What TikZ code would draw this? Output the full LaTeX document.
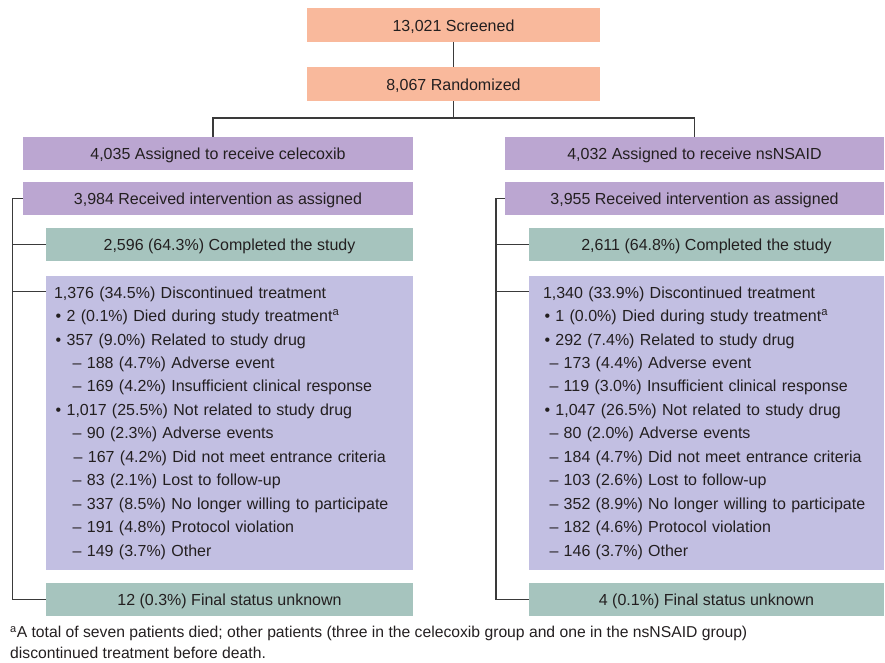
\documentclass[tikz,border=0pt]{standalone}
\usepackage{fontspec}
\setmainfont{Liberation Sans}
\usetikzlibrary{calc}
\definecolor{salmon}{HTML}{F9B99C}
\definecolor{purp}{HTML}{BBA6D1}
\definecolor{teal2}{HTML}{A6C4BE}
\definecolor{lav}{HTML}{C2BFE2}
\definecolor{txt}{HTML}{231F20}
\definecolor{ln}{HTML}{3A3A3A}
\tikzset{
  box/.style={rectangle, inner sep=0pt, text=txt, font=\fontsize{16}{19}\selectfont, anchor=center},
  linebox/.style={box, text height=14pt, text depth=1.6pt},
  topbox/.style={linebox, fill=salmon, minimum width=293pt, minimum height=34pt},
  armbox/.style={linebox, fill=purp, minimum width=#1, minimum height=33pt},
  compbox/.style={linebox, fill=teal2, minimum width=#1, minimum height=33pt},
  discbox/.style={box, fill=lav, minimum height=294pt, align=left},
  conn/.style={draw=ln, line width=1.1pt},
}
\begin{document}
\begin{tikzpicture}[x=1pt,y=-1pt]
\useasboundingbox (0,0) rectangle (885,663);
% top
\node[topbox] (screen) at (453.5,25) {13,021 Screened};
\node[topbox] (rand) at (453.5,84) {8,067 Randomized};
% left arm
\node[armbox=390pt] (lassign) at (218,153.5) {4,035 Assigned to receive celecoxib};
\node[armbox=390pt] (lrecv) at (218,198.5) {3,984 Received intervention as assigned};
\node[compbox=367pt] (lcomp) at (229.5,244.5) {2,596 (64.3\%) Completed the study};
\node[discbox, inner xsep=8pt, text width=351pt, font=\fontsize{16}{23.45}\selectfont] (ldisc) at (229.5,423) {%
1,376 (34.5\%) Discontinued treatment\\
\hspace*{1.7pt}• 2 (0.1\%) Died during study treatment\textsuperscript{a}\\
\hspace*{1.7pt}• 357 (9.0\%) Related to study drug\\
\hspace*{18.7pt}– 188 (4.7\%) Adverse event\\
\hspace*{18.7pt}– 169 (4.2\%) Insufficient clinical response\\
\hspace*{1.7pt}• 1,017 (25.5\%) Not related to study drug\\
\hspace*{18.7pt}– 90 (2.3\%) Adverse events\\
\hspace*{19.7pt}– 167 (4.2\%) Did not meet entrance criteria\\
\hspace*{18.7pt}– 83 (2.1\%) Lost to follow-up\\
\hspace*{18.7pt}– 337 (8.5\%) No longer willing to participate\\
\hspace*{18.7pt}– 191 (4.8\%) Protocol violation\\
\hspace*{18.7pt}– 149 (3.7\%) Other};
\node[compbox=367pt] (lfinal) at (229.5,599.5) {12 (0.3\%) Final status unknown};
% right arm
\node[armbox=379pt] (rassign) at (694.5,153.5) {4,032 Assigned to receive nsNSAID};
\node[armbox=379pt] (rrecv) at (694.5,198.5) {3,955 Received intervention as assigned};
\node[compbox=355pt] (rcomp) at (706.5,244.5) {2,611 (64.8\%) Completed the study};
\node[discbox, inner xsep=14pt, text width=327pt, font=\fontsize{16}{23.45}\selectfont] (rdisc) at (706.5,423) {%
1,340 (33.9\%) Discontinued treatment\\
\hspace*{1.5pt}• 1 (0.0\%) Died during study treatment\textsuperscript{a}\\
\hspace*{1.5pt}• 292 (7.4\%) Related to study drug\\
\hspace*{6.5pt}– 173 (4.4\%) Adverse event\\
\hspace*{6.5pt}– 119 (3.0\%) Insufficient clinical response\\
\hspace*{1.5pt}• 1,047 (26.5\%) Not related to study drug\\
\hspace*{6.5pt}– 80 (2.0\%) Adverse events\\
\hspace*{6.5pt}– 184 (4.7\%) Did not meet entrance criteria\\
\hspace*{6.5pt}– 103 (2.6\%) Lost to follow-up\\
\hspace*{6.5pt}– 352 (8.9\%) No longer willing to participate\\
\hspace*{6.5pt}– 182 (4.6\%) Protocol violation\\
\hspace*{6.5pt}– 146 (3.7\%) Other};
\node[compbox=355pt] (rfinal) at (706.5,599.5) {4 (0.1\%) Final status unknown};
% footnote
\node[anchor=north west, inner sep=0pt, align=left, text=txt, font=\fontsize{15.7}{21}\selectfont] (foot) at (10,626) {%
\textsuperscript{a}A total of seven patients died; other patients (three in the celecoxib group and one in the nsNSAID group)\\
discontinued treatment before death.};
% connectors
\coordinate (branch) at (453.5,118);
\coordinate (ldrop) at (213,137);
\coordinate (lbar) at (12.7,0);
\coordinate (rbar) at (496,0);
\coordinate (ldt) at ($(ldisc.north west)+(0,16)$);
\coordinate (rdt) at ($(rdisc.north west)+(0,16)$);
\draw[conn] (screen.south) -- (rand.north);
\draw[conn] (rand.south) -- (branch);
\draw[conn] (branch) -| (ldrop);
\draw[conn] (branch) -| (rassign.north);
\draw[conn] (lrecv.west) -- (lrecv.west -| lbar) -- (lfinal.west -| lbar) -- (lfinal.west);
\draw[conn] (lcomp.west) -- (lcomp.west -| lbar);
\draw[conn] (ldt) -- (ldt -| lbar);
\draw[conn] (rrecv.west) -- (rrecv.west -| rbar) -- (rfinal.west -| rbar) -- (rfinal.west);
\draw[conn] (rcomp.west) -- (rcomp.west -| rbar);
\draw[conn] (rdt) -- (rdt -| rbar);
\end{tikzpicture}
\end{document}
